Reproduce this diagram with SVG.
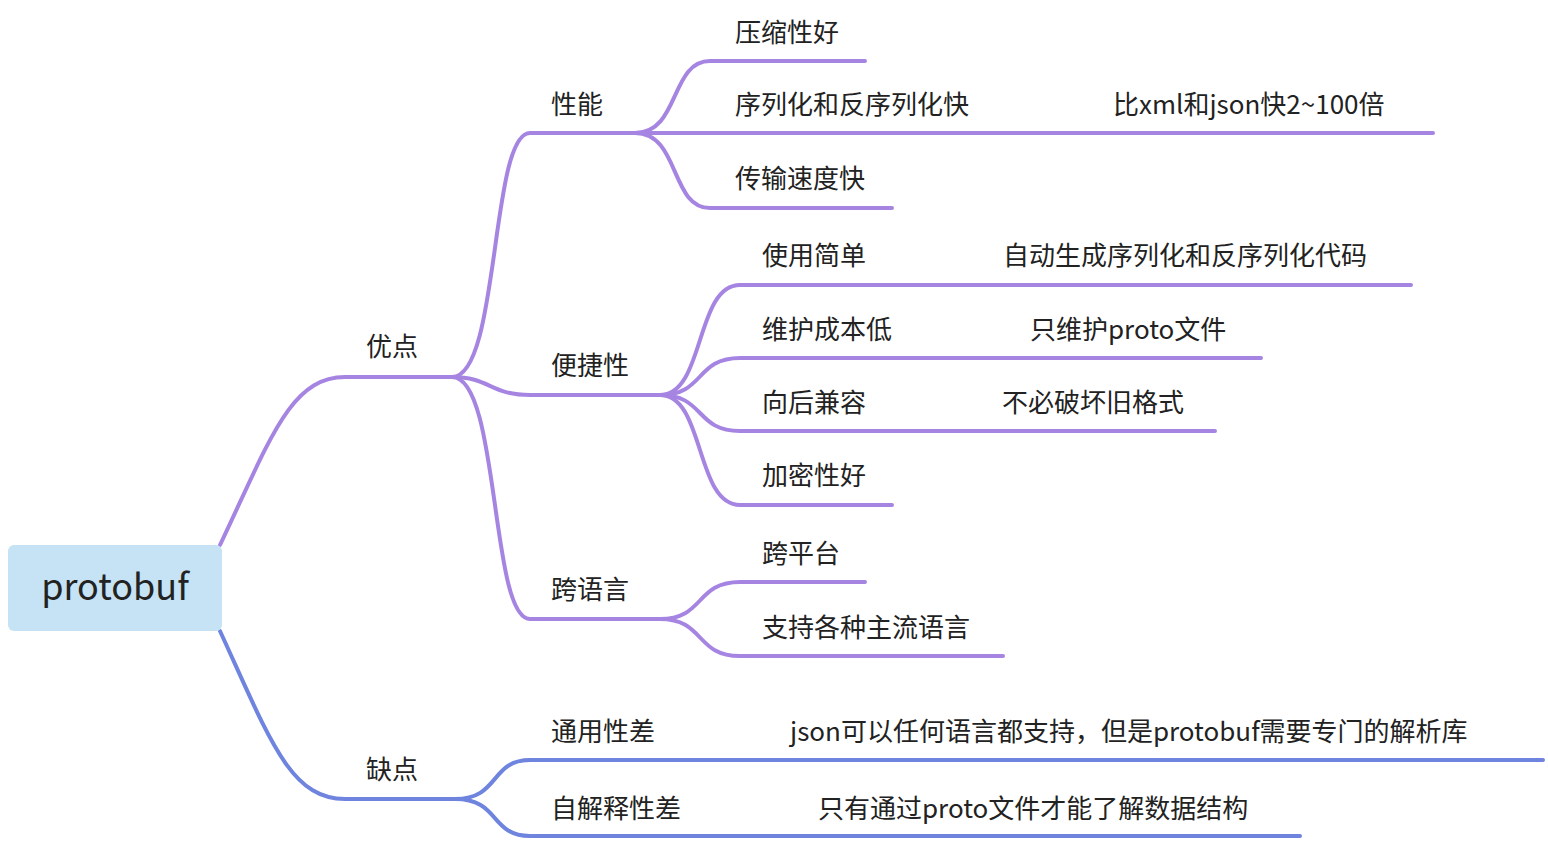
<svg xmlns="http://www.w3.org/2000/svg" width="1548" height="842" viewBox="0 0 1548 842">
<style>
.p{fill:none;stroke:#A685E2;stroke-width:4;stroke-linecap:round}
.b{fill:none;stroke:#6E84DE;stroke-width:4;stroke-linecap:round}
text{font-family:"Noto Sans CJK SC","Noto Sans",sans-serif;font-size:26px;fill:#222}
</style>
<rect width="1548" height="842" fill="#fff"/>
<g id="connectors">
<path class="p" d="M220 545 C270 440 290 377 345 377 L452 377"/>
<path class="b" d="M220 631 C270 740 290 799 345 799 L455 799"/>
<path class="p" d="M452 377 C500 377 490 133 530 133 L635 133"/>
<path class="p" d="M452 377 C490 377 490 395 530 395 L660 395"/>
<path class="p" d="M452 377 C500 377 490 619 530 619 L660 619"/>
<path class="p" d="M635 133 C680 133 670 61 710 61 L865 61"/>
<path class="p" d="M635 133 L1433 133"/>
<path class="p" d="M635 133 C680 133 670 208 710 208 L892 208"/>
<path class="p" d="M660 395 C705 395 695 285 740 285 L1411 285"/>
<path class="p" d="M660 395 C705 395 695 358 740 358 L1261 358"/>
<path class="p" d="M660 395 C705 395 695 431 740 431 L1215 431"/>
<path class="p" d="M660 395 C705 395 695 505 740 505 L892 505"/>
<path class="p" d="M660 619 C705 619 695 582 740 582 L865 582"/>
<path class="p" d="M660 619 C705 619 695 656 740 656 L1003 656"/>
<path class="b" d="M455 799 C500 799 490 760 530 760 L1543 760"/>
<path class="b" d="M455 799 C500 799 490 836 530 836 L1300 836"/>
</g>
<g id="root"><rect x="8" y="545" width="214" height="86" rx="6" fill="#C5E3F5"/><text x="115" y="600" text-anchor="middle" style="font-size:36px">protobuf</text></g>
<g id="n1"><text x="366" y="356">优点</text></g>
<g id="n2"><text x="366" y="779">缺点</text></g>
<g id="n3"><text x="551" y="114">性能</text></g>
<g id="n4"><text x="551" y="375">便捷性</text></g>
<g id="n5"><text x="551" y="599">跨语言</text></g>
<g id="n6"><text x="735" y="42">压缩性好</text></g>
<g id="n7"><text x="735" y="114">序列化和反序列化快</text></g>
<g id="n8"><text x="1113" y="114">比xml和json快2~100倍</text></g>
<g id="n9"><text x="735" y="188">传输速度快</text></g>
<g id="n10"><text x="762" y="265">使用简单</text></g>
<g id="n11"><text x="1003" y="265">自动生成序列化和反序列化代码</text></g>
<g id="n12"><text x="762" y="339">维护成本低</text></g>
<g id="n13"><text x="1030" y="339">只维护proto文件</text></g>
<g id="n14"><text x="762" y="412">向后兼容</text></g>
<g id="n15"><text x="1002" y="412">不必破坏旧格式</text></g>
<g id="n16"><text x="762" y="485">加密性好</text></g>
<g id="n17"><text x="762" y="563">跨平台</text></g>
<g id="n18"><text x="762" y="637">支持各种主流语言</text></g>
<g id="n19"><text x="551" y="741">通用性差</text></g>
<g id="n20"><text x="790" y="741">json可以任何语言都支持，但是protobuf需要专门的解析库</text></g>
<g id="n21"><text x="551" y="818">自解释性差</text></g>
<g id="n22"><text x="818" y="818">只有通过proto文件才能了解数据结构</text></g>
</svg>
